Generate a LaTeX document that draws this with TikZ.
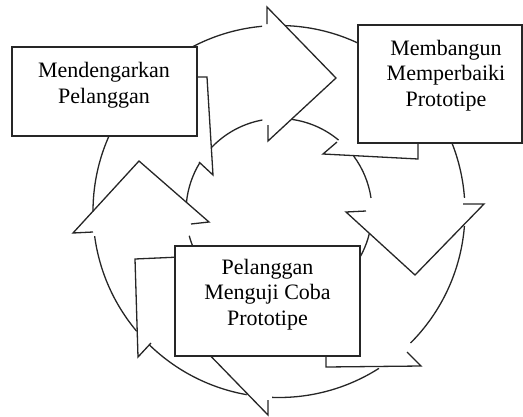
\documentclass[tikz,border=0pt]{standalone}
\usepackage{fontspec}
\setmainfont{Liberation Serif}
\begin{document}
\begin{tikzpicture}[x=1pt,y=-1pt,
  ln/.style={line width=1.3pt, draw=black!85, line join=miter},
  boxst/.style={draw=black!85, line width=1.7pt, fill=white, inner sep=0pt},
  txt/.style={font=\fontsize{22}{25.5}\selectfont, align=center, anchor=base, inner sep=0pt}]
\useasboundingbox (0,0) rectangle (523,416);
\coordinate (c) at (279,211.5);
% outer ring arcs
\draw[ln] (c) ++(-180:186) arc[start angle=-180,end angle=-95.2,radius=186];
\draw[ln] (c) ++(-88.2:186) arc[start angle=-88.2,end angle=-4.2,radius=186];
\draw[ln] (c) ++(4.5:186) arc[start angle=4.5,end angle=45,radius=186];
\draw[ln] (c) ++(57.5:186) arc[start angle=57.5,end angle=92.1,radius=186];
\draw[ln] (c) ++(100:186) arc[start angle=100,end angle=134.2,radius=186];
\draw[ln] (c) ++(139.9:186) arc[start angle=139.9,end angle=172.4,radius=186];
% inner ring arcs
\draw[ln] (c) ++(-174.4:93) arc[start angle=-174.4,end angle=-148.3,radius=93];
\draw[ln] (c) ++(-136.7:93) arc[start angle=-136.7,end angle=-100.3,radius=93];
\draw[ln] (c) ++(-82.4:93) arc[start angle=-82.4,end angle=-50.2,radius=93];
\draw[ln] (c) ++(-36.6:93) arc[start angle=-36.6,end angle=-8.4,radius=93];
\draw[ln] (c) ++(13.4:93) arc[start angle=13.4,end angle=40,radius=93];
\draw[ln] (c) ++(150:93) arc[start angle=150,end angle=164.9,radius=93];
% arrow heads
\draw[ln] (267,24) -- (267,7) -- (336,78) -- (268,141) -- (268,125);
\draw[ln] (463,204) -- (484,204) -- (415,275) -- (346,212) -- (366,211);
\draw[ln] (93,232) -- (73,233) -- (139,161) -- (209,222) -- (191,224);
\draw[ln] (268,400) -- (268,415) -- (199,344);
% arrow tails
\draw[ln] (190,77) -- (207,77) -- (213,175) -- (199,162);
\draw[ln] (418,136) -- (418,159) -- (323,154) -- (337,142);
\draw[ln] (326,350) -- (326,367) -- (421,366) -- (407,352);
\draw[ln] (180,257) -- (135,259) -- (138,357) -- (151,343);
% boxes
\node[boxst, minimum width=185pt, minimum height=89pt] (m) at (104.5,91.5) {};
\node[boxst, minimum width=164pt, minimum height=118pt] (b) at (440,84) {};
\node[boxst, minimum width=185pt, minimum height=110pt] (p) at (267.5,301) {};
% texts (anchor = baseline of last line)
\node[txt] (tm) at (104,103) {Mendengarkan\\Pelanggan};
\node[txt] (tb) at (446,106) {Membangun\\Memperbaiki\\Prototipe};
\node[txt] (tp) at (267.5,325) {Pelanggan\\Menguji Coba\\Prototipe};
\end{tikzpicture}
\end{document}
